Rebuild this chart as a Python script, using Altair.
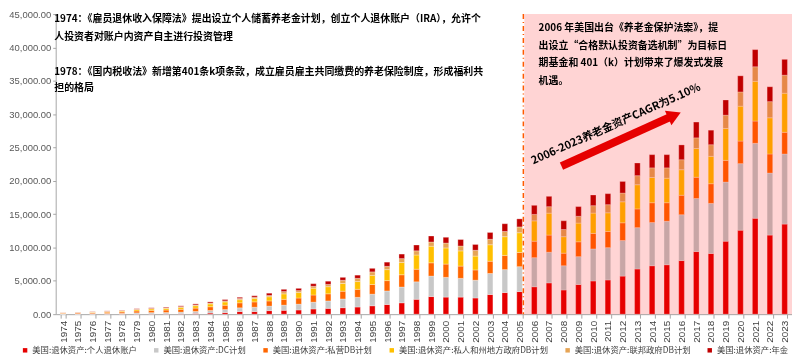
import altair as alt
import pandas as pd

years = [str(y) for y in range(1974, 2024)]

series_names = [
    "美国:退休资产:个人退休账户",
    "美国:退休资产:DC计划",
    "美国:退休资产:私营DB计划",
    "美国:退休资产:私人和州地方政府DB计划",
    "美国:退休资产:联邦政府DB计划",
    "美国:退休资产:年金",
]
series_colors = ["#e60000", "#c8c8c8", "#ff6600", "#ffc000", "#e6a455", "#c00000"]

ira = [2, 5, 10, 15, 20, 25, 30, 40, 70, 110, 170, 240, 390, 390, 530, 580, 630, 780, 870, 970,
       1070, 1260, 1450, 1700, 2230, 2640, 2560, 2560, 2420, 2950, 3240, 3390, 4110, 4690, 3630, 4450,
       4980, 5130, 5710, 6770, 7260, 7410, 8040, 9390, 9100, 10940, 12590, 14380, 11860, 13510]
dc = [40, 50, 60, 80, 95, 170, 200, 210, 240, 300, 380, 450, 560, 650, 680, 775, 870, 1020, 1110, 1310,
      1450, 1740, 2030, 2370, 2620, 3070, 2960, 2810, 2670, 3150, 3440, 3730, 4360, 4600, 3630, 4170,
      4800, 4840, 5330, 6200, 6480, 6530, 6870, 7950, 7510, 8870, 9980, 11240, 9300, 10510]
private_db = [110, 130, 150, 190, 215, 280, 330, 370, 420, 500, 560, 650, 750, 800, 775, 870, 920, 1070, 1070, 1160,
              1210, 1450, 1550, 1840, 1890, 1990, 1990, 1840, 1540, 1840, 2130, 2130, 2470, 2570, 1890, 2230,
              2330, 2430, 2660, 2810, 2970, 2770, 2920, 3190, 2950, 3250, 3390, 3340, 2860, 3250]
state_local_db = [50, 65, 80, 110, 130, 200, 230, 250, 300, 360, 420, 490, 470, 520, 630, 820, 820, 1020, 1070, 1160,
                  1160, 1360, 1650, 1840, 2130, 2490, 2420, 2280, 2080, 2470, 2810, 2960, 3050, 3290, 2470, 2810,
                  3050, 2800, 3150, 3630, 3780, 3680, 3830, 4310, 4110, 4790, 5230, 5960, 5430, 5860]
federal_db = [20, 27, 34, 48, 57, 70, 80, 90, 100, 120, 140, 160, 180, 180, 190, 340, 290, 290, 340, 480,
              480, 530, 490, 580, 630, 630, 730, 730, 870, 820, 780, 870, 970, 970, 1070, 1020,
              1110, 1220, 1310, 1360, 1450, 1550, 1500, 1600, 1740, 1990, 2130, 2180, 2420, 2710]
annuities = [20, 27, 34, 48, 57, 70, 85, 100, 120, 150, 170, 200, 180, 220, 340, 340, 340, 390, 480, 440,
             480, 530, 630, 680, 870, 900, 870, 970, 870, 1020, 1160, 1210, 1360, 1550, 1310, 1450,
             1600, 1650, 1740, 1900, 1980, 1980, 2220, 2370, 2180, 2280, 2420, 2570, 2230, 2370]

note1a = [
    "1974：《雇员退休收入保障法》提出设立个人储蓄养老金计划，创立个人退休账户（IRA），允许个",
    "人投资者对账户内资产自主进行投资管理",
]
note1b = [
    "1978：《国内税收法》新增第401条k项条款，成立雇员雇主共同缴费的养老保险制度，形成福利共",
    "担的格局",
]
note2 = [
    "2006 年美国出台《养老金保护法案》，提",
    "出设立“合格默认投资备选机制”为目标日",
    "期基金和 401（k）计划带来了爆发式发展",
    "机遇。",
]
arrow_label = "2006-2023养老金资产CAGR为5.10%"

all_series = [ira, dc, private_db, state_local_db, federal_db, annuities]
rows = []
for si, (name, vals) in enumerate(zip(series_names, all_series)):
    for y, v in zip(years, vals):
        rows.append({"year": y, "series": name, "value": v, "idx": si})
df = pd.DataFrame(rows)

CJK = "Noto Sans CJK SC"
W, H = 741, 302

x_axis = alt.Axis(labelAngle=270, labelFontSize=10, labelColor="#404040",
                  labelFont="Liberation Sans", tickBand="extent", tickSize=4,
                  tickColor="#a6a6a6", domainColor="#a6a6a6", labelPadding=2, title=None)
x_scale = alt.Scale(paddingInner=0.62)

bars = alt.Chart(df).mark_bar(stroke="white", strokeWidth=0.3).encode(
    x=alt.X("year:O", title=None, scale=x_scale, axis=x_axis),
    y=alt.Y("value:Q", stack="zero", title=None,
            scale=alt.Scale(domain=[0, 45000]),
            axis=alt.Axis(values=list(range(0, 45001, 5000)), format=",.2f", grid=False,
                          labelFontSize=9.5, labelColor="#595959", labelFont="Liberation Sans",
                          tickSize=3, tickColor="#a6a6a6", domainColor="#a6a6a6", labelPadding=2)),
    color=alt.Color("series:N", sort=series_names,
                    scale=alt.Scale(domain=series_names, range=series_colors),
                    legend=alt.Legend(title=None, orient="none", legendX=-35, legendY=334,
                                      direction="horizontal", symbolType="square", symbolSize=20,
                                      symbolStrokeWidth=0, labelFontSize=8.4, labelFont=CJK,
                                      labelColor="#404040", columnPadding=15, labelOffset=3,
                                      labelLimit=300)),
    order=alt.Order("idx:Q", sort="ascending"),
)

mark_df = pd.DataFrame({"year": ["2005"]})

pink = alt.Chart(mark_df).mark_rect(color="#ffd4d4", blend="multiply", xOffset=2).encode(
    x=alt.X("year:O", bandPosition=1, title=None, scale=x_scale, axis=x_axis),
    x2=alt.value("width"),
    y=alt.value(0),
    y2=alt.value("height"),
)

divider = alt.Chart(mark_df).mark_rule(color="#ff5a00", strokeDash=[5, 3, 1, 3], strokeWidth=1.5,
                                       xOffset=1).encode(
    x=alt.X("year:O", bandPosition=1, title=None, scale=x_scale, axis=x_axis),
)

one = pd.DataFrame({"k": [0]})

text1a = alt.Chart(one).mark_text(text=note1a, font=CJK, fontSize=10, fontWeight="bold", color="#000000",
                                  align="left", baseline="top", lineHeight=17.7).encode(
    x=alt.value(-1.5), y=alt.value(0))

text1b = alt.Chart(one).mark_text(text=note1b, font=CJK, fontSize=10, fontWeight="bold", color="#000000",
                                  align="left", baseline="top", lineHeight=15.8).encode(
    x=alt.value(-1.5), y=alt.value(53.5))

text2 = alt.Chart(one).mark_text(text=note2, font=CJK, fontSize=10, fontWeight="bold", color="#000000",
                                 align="left", baseline="top", lineHeight=17.6).encode(
    x=alt.value(486), y=alt.value(9.5))

arrow_text = alt.Chart(one).mark_text(text=arrow_label, font=CJK, fontSize=11, fontWeight="bold",
                                      color="#000000", angle=336, align="center", baseline="middle").encode(
    x=alt.value(564), y=alt.value(111))

shaft = alt.Chart(one).mark_rule(color="#e60000", strokeWidth=8, strokeCap="butt").encode(
    x=alt.value(509), y=alt.value(153), x2=alt.value(621), y2=alt.value(102.5))

head = alt.Chart(one).mark_point(shape="triangle-right", filled=True, size=256, angle=335.8,
                                 color="#e60000", opacity=1).encode(
    x=alt.value(622.7), y=alt.value(101.8))

chart = alt.layer(bars, pink, divider, text1a, text1b, text2, arrow_text, shaft, head).properties(
    width=W, height=H,
    autosize=alt.AutoSizeParams(type="none"),
    padding={"left": 48, "top": 5, "right": 0, "bottom": 43},
).configure_view(strokeWidth=0)

chart.save("out.html", embed_options={"renderer": "svg", "actions": False})
